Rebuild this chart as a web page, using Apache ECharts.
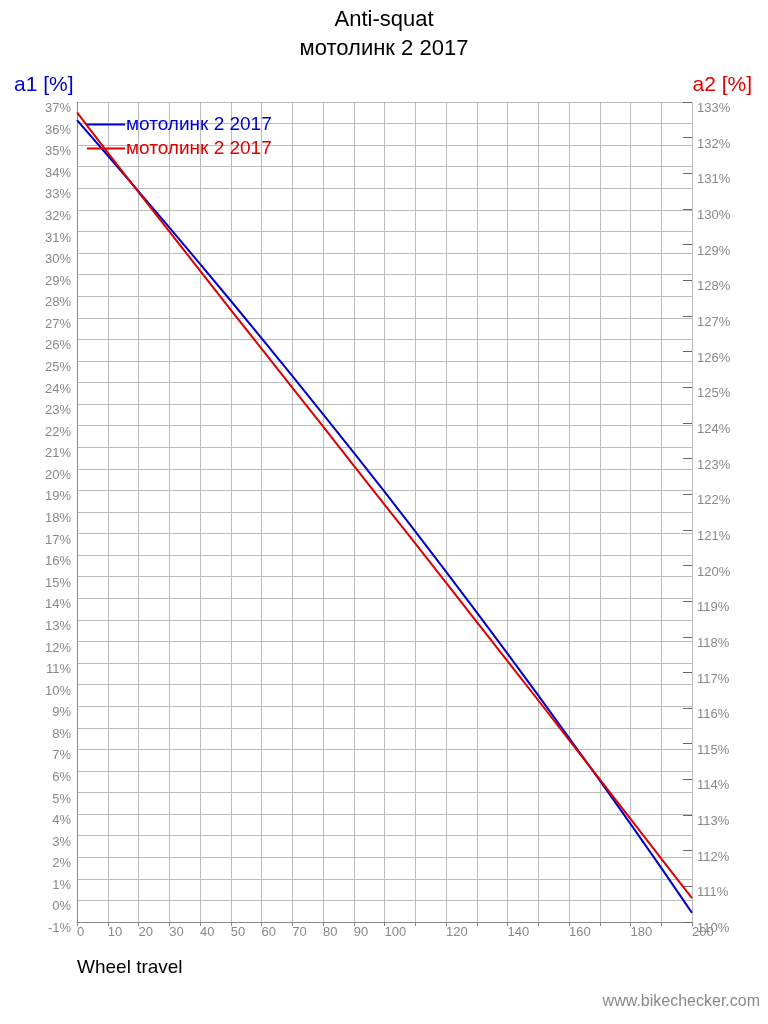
<!DOCTYPE html>
<html>
<head>
<meta charset="utf-8">
<script src="https://cdn.jsdelivr.net/npm/echarts@6/dist/echarts.min.js"></script>
<style>
html,body{margin:0;padding:0;background:#fff;}
#chart{width:768px;height:1024px;}
</style>
</head>
<body>
<div id="chart"></div>
<script>
// Data
const travel = [0, 10, 20, 30, 40, 50, 60, 70, 80, 90, 100, 110, 120, 130, 140, 150, 160, 170, 180, 190, 200];
const a1Values = [36.16, 34.52, 32.86, 31.19, 29.50, 27.79, 26.06, 24.31, 22.54, 20.75, 18.94, 17.10, 15.24, 13.35, 11.44, 9.50, 7.54, 5.56, 3.55, 1.51, -0.58];
const a2Values = [132.71, 131.58, 130.47, 129.37, 128.27, 127.17, 126.08, 124.99, 123.90, 122.80, 121.71, 120.62, 119.52, 118.42, 117.32, 116.22, 115.11, 114.00, 112.89, 111.78, 110.67];
const seriesName = 'мотолинк 2 2017';
const titleLines = ['Anti-squat', 'мотолинк 2 2017'];
const xAxisTitle = 'Wheel travel';
const leftAxisTitle = 'a1 [%]';
const rightAxisTitle = 'a2 [%]';
const watermark = 'www.bikechecker.com';

const FONT = 'Liberation Sans, Arial, sans-serif';
const chart = echarts.init(document.getElementById('chart'));
const a1Data = travel.map((t, i) => [t, a1Values[i]]);
const a2Data = travel.map((t, i) => [t, a2Values[i]]);

chart.setOption({
  animation: false,
  backgroundColor: '#ffffff',
  textStyle: { fontFamily: FONT },
  title: {
    text: titleLines.join('\n'),
    left: 'center',
    top: 0,
    textStyle: { fontFamily: FONT, fontSize: 22, fontWeight: 'normal', color: '#000', lineHeight: 29 }
  },
  grid: { left: 77, right: 76, top: 102, bottom: 102, containLabel: false },
  legend: {
    orient: 'vertical',
    left: 82,
    top: 110,
    itemWidth: 38,
    itemHeight: 14,
    itemGap: 5,
    icon: 'path://M0,6 L38,6 L38,8 L0,8 Z',
    textStyle: { fontFamily: FONT, fontSize: 19, padding: [0, 0, 0, -4] },
    data: [
      { name: 'a1', textStyle: { color: '#0000cc' } },
      { name: 'a2', textStyle: { color: '#dd0000' } }
    ],
    formatter: () => seriesName
  },
  xAxis: {
    type: 'value',
    min: 0,
    max: 200,
    interval: 10,
    axisLine: { show: true, onZero: false, lineStyle: { color: '#888', width: 1 } },
    axisTick: { show: true, length: 4, lineStyle: { color: '#888' } },
    axisLabel: {
      color: '#888',
      fontSize: 13,
      fontFamily: FONT,
      align: 'left',
      margin: 4,
      formatter: v => (v <= 100 || v % 20 === 0) ? String(v) : ''
    },
    splitLine: { show: true, lineStyle: { color: '#bcbcbc', width: 1 } }
  },
  yAxis: [
    {
      type: 'value',
      min: -1,
      max: 37,
      interval: 1,
      position: 'left',
      axisLine: { show: true, onZero: false, lineStyle: { color: '#888', width: 1 } },
      axisTick: { show: false },
      axisLabel: {
        color: '#888',
        fontSize: 13,
        fontFamily: FONT,
        margin: 6,
        verticalAlign: 'top',
        formatter: v => v + '%'
      },
      splitLine: { show: true, lineStyle: { color: '#bcbcbc', width: 1 } }
    },
    {
      type: 'value',
      min: 110,
      max: 133,
      interval: 1,
      position: 'right',
      axisLine: { show: false, onZero: false },
      axisTick: { show: true, inside: true, length: 9, lineStyle: { color: '#666' } },
      axisLabel: {
        color: '#888',
        fontSize: 13,
        fontFamily: FONT,
        margin: 5,
        verticalAlign: 'top',
        formatter: v => v + '%'
      },
      splitLine: { show: false }
    }
  ],
  graphic: [
    { type: 'text', left: 14, top: 75, style: { text: leftAxisTitle, fill: '#0000cc', font: '21px ' + FONT } },
    { type: 'text', right: 16, top: 75, style: { text: rightAxisTitle, fill: '#dd0000', font: '21px ' + FONT } },
    { type: 'text', left: 77, top: 958, style: { text: xAxisTitle, fill: '#000', font: '19px ' + FONT } },
    { type: 'text', right: 8, top: 994, style: { text: watermark, fill: '#888', font: '16px ' + FONT } }
  ],
  series: [
    {
      name: 'a1',
      type: 'line',
      yAxisIndex: 0,
      data: a1Data,
      showSymbol: false,
      smooth: false,
      lineStyle: { color: '#0000cc', width: 2 },
      itemStyle: { color: '#0000cc' },
      z: 3
    },
    {
      name: 'a2',
      type: 'line',
      yAxisIndex: 1,
      data: a2Data,
      showSymbol: false,
      smooth: false,
      lineStyle: { color: '#dd0000', width: 2 },
      itemStyle: { color: '#dd0000' },
      z: 4
    }
  ]
});
</script>
</body>
</html>
